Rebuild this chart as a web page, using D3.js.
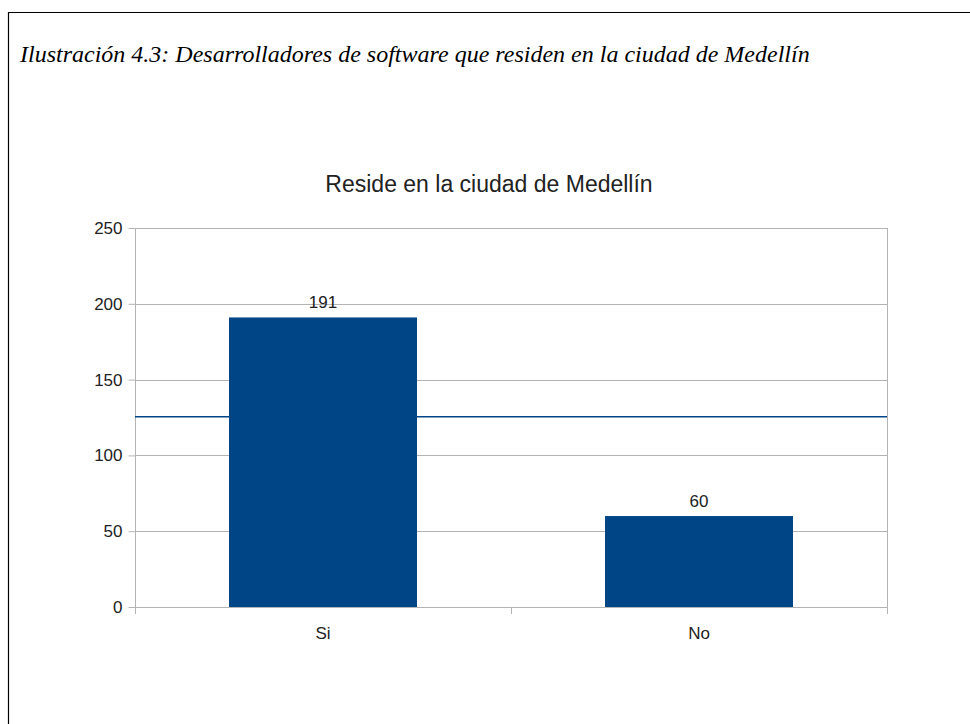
<!DOCTYPE html>
<html>
<head>
<meta charset="utf-8">
<script src="https://cdn.jsdelivr.net/npm/d3@7"></script>
<style>
  html, body { margin: 0; padding: 0; background: #fff; }
  svg { display: block; }
</style>
</head>
<body>
<svg id="chart" width="970" height="724"></svg>
<script>
// Data
const categories = ["Si", "No"];
const counts = [191, 60];
const meanValue = 125.5;
const yTicks = [0, 50, 100, 150, 200, 250];
const caption = "Ilustración 4.3: Desarrolladores de software que residen en la ciudad de Medellín";
const chartTitle = "Reside en la ciudad de Medellín";

const svg = d3.select("#chart");
const barColor = "#004586";
const gridColor = "#b3b3b3";
const sans = "'Liberation Sans', Arial, sans-serif";

// Frame around the illustration
svg.append("path")
  .attr("d", "M8.5,724 V12.5 H970")
  .attr("fill", "none")
  .attr("stroke", "#000")
  .attr("stroke-width", 1.2);

// Caption
svg.append("text")
  .attr("x", 20).attr("y", 62)
  .attr("font-family", "'Liberation Serif', 'DejaVu Serif', serif")
  .attr("font-style", "italic")
  .attr("font-size", 24)
  .attr("fill", "#000")
  .text(caption);

const plot = { left: 135, right: 887, top: 228, bottom: 607 };

const x = d3.scaleBand()
  .domain(categories)
  .range([plot.left, plot.right])
  .paddingInner(0.5)
  .paddingOuter(0.25);

const xBands = d3.scaleBand()
  .domain(categories)
  .range([plot.left, plot.right]);

const y = d3.scaleLinear()
  .domain([0, 250])
  .range([plot.bottom, plot.top]);

// Chart title
svg.append("text")
  .attr("x", 489)
  .attr("y", 192)
  .attr("text-anchor", "middle")
  .attr("font-family", sans)
  .attr("font-size", 23)
  .attr("fill", "#222")
  .text(chartTitle);

// Horizontal grid lines
svg.append("g")
  .selectAll("line")
  .data(yTicks)
  .join("line")
  .attr("x1", plot.left).attr("x2", plot.right)
  .attr("y1", d => Math.round(y(d)) + 0.5)
  .attr("y2", d => Math.round(y(d)) + 0.5)
  .attr("stroke", gridColor)
  .attr("stroke-width", 1);

// Right border of the plot area
svg.append("line")
  .attr("x1", plot.right + 0.5).attr("x2", plot.right + 0.5)
  .attr("y1", plot.top).attr("y2", plot.bottom + 7)
  .attr("stroke", gridColor);

// Y axis
const yAxis = d3.axisLeft(y)
  .tickValues(yTicks)
  .tickSize(7)
  .tickPadding(6)
  .tickSizeOuter(0);
const gy = svg.append("g")
  .attr("transform", `translate(${plot.left + 0.5},0)`)
  .call(yAxis);
gy.select(".domain").attr("stroke", gridColor).attr("d", `M0,${plot.top}V${plot.bottom + 7}`);
gy.selectAll(".tick line").attr("stroke", gridColor);
gy.selectAll(".tick text")
  .attr("font-family", sans)
  .attr("font-size", 17)
  .attr("fill", "#222");

// X axis: tick marks at band boundaries, labels at band centres
const boundaries = [plot.left, ...categories.map(c => xBands(c) + xBands.bandwidth())];
svg.append("g")
  .selectAll("line")
  .data(boundaries)
  .join("line")
  .attr("x1", d => Math.round(d) + 0.5).attr("x2", d => Math.round(d) + 0.5)
  .attr("y1", plot.bottom).attr("y2", plot.bottom + 7)
  .attr("stroke", gridColor);

svg.append("g")
  .selectAll("text")
  .data(categories)
  .join("text")
  .attr("x", d => x(d) + x.bandwidth() / 2)
  .attr("y", 639)
  .attr("text-anchor", "middle")
  .attr("font-family", sans)
  .attr("font-size", 17)
  .attr("fill", "#222")
  .text(d => d);

// Bars
svg.append("g")
  .selectAll("rect")
  .data(categories)
  .join("rect")
  .attr("x", d => x(d))
  .attr("width", x.bandwidth())
  .attr("y", (d, i) => y(counts[i]))
  .attr("height", (d, i) => y(0) - y(counts[i]))
  .attr("fill", barColor);

// Mean line
svg.append("line")
  .attr("x1", plot.left).attr("x2", plot.right)
  .attr("y1", y(meanValue)).attr("y2", y(meanValue))
  .attr("stroke", barColor)
  .attr("stroke-width", 1.3);

// Value labels
svg.append("g")
  .selectAll("text")
  .data(categories)
  .join("text")
  .attr("x", d => x(d) + x.bandwidth() / 2)
  .attr("y", (d, i) => y(counts[i]) - 9)
  .attr("text-anchor", "middle")
  .attr("font-family", sans)
  .attr("font-size", 17)
  .attr("fill", "#222")
  .text((d, i) => counts[i]);
</script>
</body>
</html>
